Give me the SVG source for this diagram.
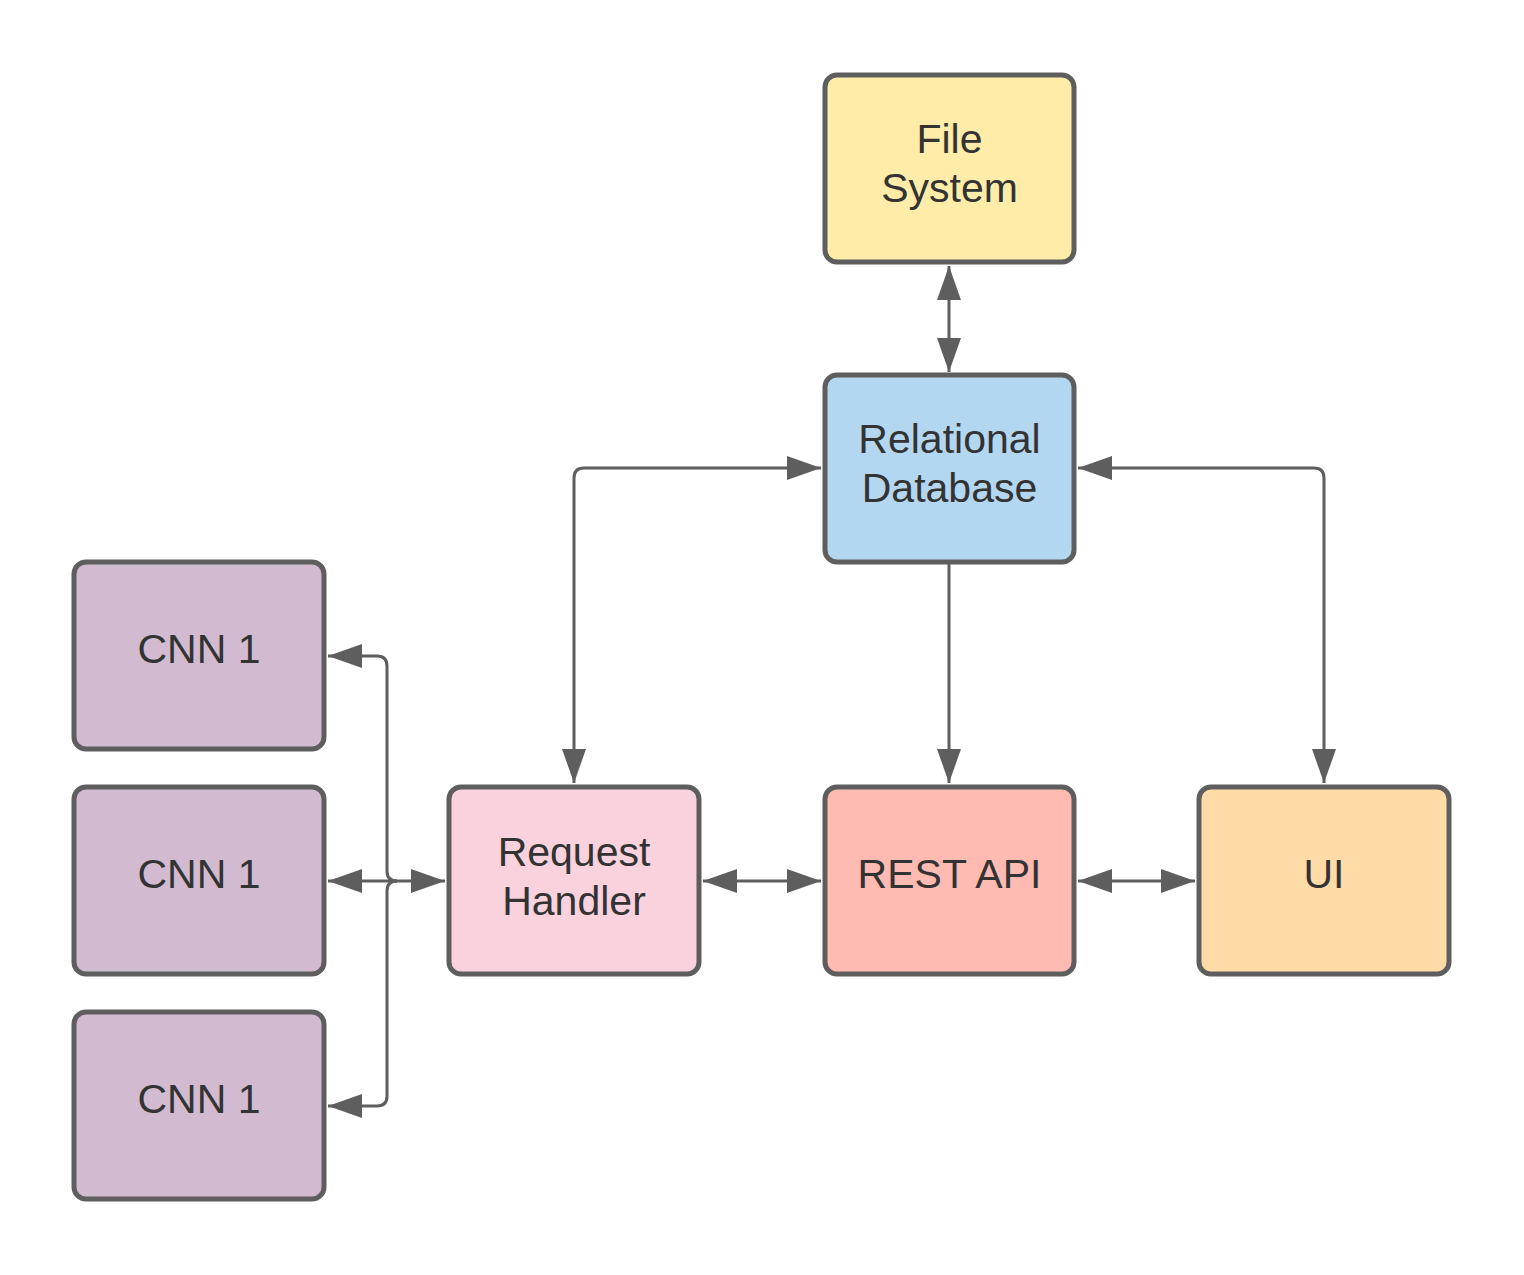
<svg xmlns="http://www.w3.org/2000/svg" width="1524" height="1275" viewBox="0 0 1524 1275">
<defs>
<marker id="ah" viewBox="0 0 34 24" refX="34" refY="12" markerWidth="34" markerHeight="24" markerUnits="userSpaceOnUse" orient="auto-start-reverse">
<path d="M0,0 L34,12 L0,24 Z" fill="#5e5e5e"/>
</marker>
</defs>
<style>
.box{stroke:#5e5e5e;stroke-width:5}
.lbl{font-family:"Liberation Sans",Arial,sans-serif;font-size:41px;fill:#333333;text-anchor:middle}
.c{fill:none;stroke:#5e5e5e;stroke-width:3}
</style>
<rect width="1524" height="1275" fill="#ffffff"/>
<g id="connectors">
<path class="c" d="M949,266 L949,372" marker-start="url(#ah)" marker-end="url(#ah)"/>
<path class="c" d="M574,783 L574,478 Q574,468 584,468 L821,468" marker-start="url(#ah)" marker-end="url(#ah)"/>
<path class="c" d="M949,562 L949,783" marker-end="url(#ah)"/>
<path class="c" d="M1078,468 L1314,468 Q1324,468 1324,478 L1324,783" marker-start="url(#ah)" marker-end="url(#ah)"/>
<path class="c" d="M703,881 L821,881" marker-start="url(#ah)" marker-end="url(#ah)"/>
<path class="c" d="M1078,881 L1195,881" marker-start="url(#ah)" marker-end="url(#ah)"/>
<path class="c" d="M445,881 L328,881" marker-start="url(#ah)" marker-end="url(#ah)"/>
<path class="c" d="M397,881 Q387,881 387,871 L387,666 Q387,656 377,656 L328,656" marker-end="url(#ah)"/>
<path class="c" d="M397,881 Q387,881 387,891 L387,1096 Q387,1106 377,1106 L328,1106" marker-end="url(#ah)"/>
</g>
<g id="file-system">
<rect class="box" x="825" y="75" width="249" height="187" rx="12" fill="#ffeca9"/>
<text class="lbl" x="949.5" y="153">File</text>
<text class="lbl" x="949.5" y="202">System</text>
</g>
<g id="relational-database">
<rect class="box" x="825" y="375" width="249" height="187" rx="12" fill="#b3d7f0"/>
<text class="lbl" x="949.5" y="453">Relational</text>
<text class="lbl" x="949.5" y="502">Database</text>
</g>
<g id="request-handler">
<rect class="box" x="449" y="787" width="250" height="187" rx="12" fill="#f9d2de"/>
<text class="lbl" x="574" y="866">Request</text>
<text class="lbl" x="574" y="915">Handler</text>
</g>
<g id="rest-api">
<rect class="box" x="825" y="787" width="249" height="187" rx="12" fill="#ffbbb1"/>
<text class="lbl" x="949.5" y="888">REST API</text>
</g>
<g id="ui">
<rect class="box" x="1199" y="787" width="250" height="187" rx="12" fill="#ffdba8"/>
<text class="lbl" x="1324" y="888">UI</text>
</g>
<g id="cnn-1a">
<rect class="box" x="74" y="562" width="250" height="187" rx="12" fill="#d2bbd0"/>
<text class="lbl" x="199" y="663">CNN 1</text>
</g>
<g id="cnn-1b">
<rect class="box" x="74" y="787" width="250" height="187" rx="12" fill="#d2bbd0"/>
<text class="lbl" x="199" y="888">CNN 1</text>
</g>
<g id="cnn-1c">
<rect class="box" x="74" y="1012" width="250" height="187" rx="12" fill="#d2bbd0"/>
<text class="lbl" x="199" y="1113">CNN 1</text>
</g>
</svg>
